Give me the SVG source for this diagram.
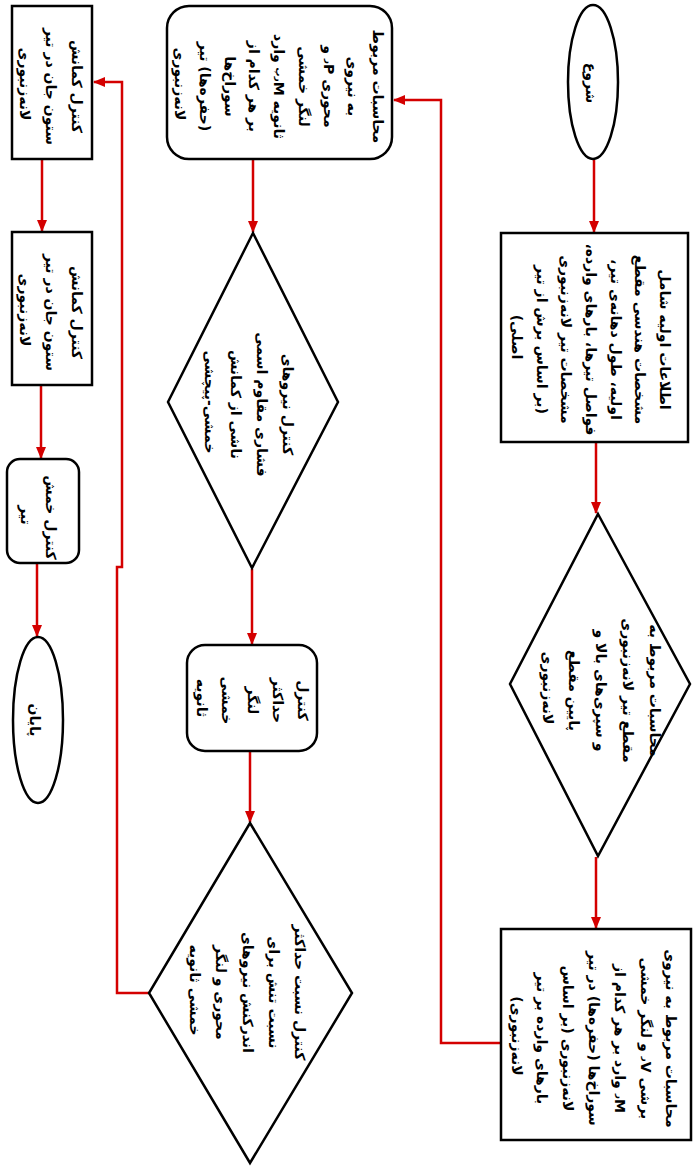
<svg xmlns="http://www.w3.org/2000/svg" width="700" height="1176" viewBox="0 0 700 1176">
<style>
.n{fill:#fff;stroke:#000;stroke-width:2.5}
.t{font-family:"DejaVu Sans","Noto Sans",sans-serif;font-weight:bold;font-size:14px;fill:#000;text-anchor:middle;dominant-baseline:central;direction:rtl;unicode-bidi:embed}
.sub{font-size:9px}
.c{fill:none;stroke:#d40000;stroke-width:2.5}
</style>
<defs>
<marker id="ah" markerUnits="userSpaceOnUse" markerWidth="12" markerHeight="10" refX="11" refY="5" orient="auto">
<path d="M0,0 L12,5 L0,10 Z" fill="#d40000"/>
</marker>
</defs>
<rect width="700" height="1176" fill="#fff"/>

<g id="connectors">
<path class="c" d="M594,160 V232" marker-end="url(#ah)"/>
<path class="c" d="M596,443 V513" marker-end="url(#ah)"/>
<path class="c" d="M596,857 V928" marker-end="url(#ah)"/>
<path class="c" d="M501,1043 H441 V100 H394" marker-end="url(#ah)"/>
<path class="c" d="M253,160 V232" marker-end="url(#ah)"/>
<path class="c" d="M252,569 V644" marker-end="url(#ah)"/>
<path class="c" d="M250,752 V822" marker-end="url(#ah)"/>
<path class="c" d="M149,993 H117 V567 H122 V82 H94" marker-end="url(#ah)"/>
<path class="c" d="M42,160 V231" marker-end="url(#ah)"/>
<path class="c" d="M41,386 V458" marker-end="url(#ah)"/>
<path class="c" d="M37,564 V636" marker-end="url(#ah)"/>
</g>

<g id="start">
<ellipse class="n" cx="593" cy="82" rx="25" ry="77"/>
<text class="t" transform="translate(591,83) rotate(90)"><tspan x="0" y="0">شروع</tspan></text>
</g>

<g id="input-data">
<rect class="n" x="501" y="233" width="187" height="209"/>
<text class="t" transform="translate(591,337) rotate(90)">
<tspan x="0" y="-74">اطلاعات اولیه شامل</tspan>
<tspan x="0" y="-49.3">مشخصات هندسی مقطع</tspan>
<tspan x="0" y="-24.7">اولیه، طول دهانه‌ی تیر،</tspan>
<tspan x="0" y="0">فواصل تیرها، بارهای وارده،</tspan>
<tspan x="0" y="24.7">مشخصات تیر لانه‌زنبوری</tspan>
<tspan x="0" y="49.3">(بر اساس برش از تیر</tspan>
<tspan x="0" y="74">اصلی)</tspan>
</text>
</g>

<g id="section-calc">
<polygon class="n" points="598,514 690,684 598,856 510,684"/>
<text class="t" transform="translate(601,688) rotate(90)">
<tspan x="0" y="-53.5">محاسبات مربوط به</tspan>
<tspan x="0" y="-26.75">مقطع تیر لانه‌زنبوری</tspan>
<tspan x="0" y="0">و سپری‌های بالا و</tspan>
<tspan x="0" y="26.75">پایین مقطع</tspan>
<tspan x="0" y="53.5">لانه‌زنبوری</tspan>
</text>
</g>

<g id="shear-moment">
<rect class="n" x="501" y="929" width="190" height="211"/>
<text class="t" transform="translate(594,1036) rotate(90)">
<tspan x="0" y="-77.4">محاسبات مربوط به نیروی</tspan>
<tspan x="0" y="-51.6">برشی V<tspan class="sub">ر</tspan> و لنگر خمشی</tspan>
<tspan x="0" y="-25.8">M<tspan class="sub">ر</tspan> وارد بر هر کدام از</tspan>
<tspan x="0" y="0">سوراخ‌ها (حفره‌ها) در تیر</tspan>
<tspan x="0" y="25.8">لانه‌زنبوری (بر اساس</tspan>
<tspan x="0" y="51.6">بارهای وارده بر تیر</tspan>
<tspan x="0" y="77.4">لانه‌زنبوری)</tspan>
</text>
</g>

<g id="axial-moment">
<rect class="n" x="167" y="6" width="225" height="153" rx="22"/>
<text class="t" transform="translate(279,84) rotate(90)">
<tspan x="0" y="-99">محاسبات مربوط</tspan>
<tspan x="0" y="-74.25">به نیروی</tspan>
<tspan x="0" y="-49.5">محوری P<tspan class="sub">ر</tspan> و</tspan>
<tspan x="0" y="-24.75">لنگر خمشی</tspan>
<tspan x="0" y="0">ثانویه M<tspan class="sub">رپ</tspan> وارد</tspan>
<tspan x="0" y="24.75">بر هر کدام از</tspan>
<tspan x="0" y="49.5">سوراخ‌ها</tspan>
<tspan x="0" y="74.25">(حفره‌ها) تیر</tspan>
<tspan x="0" y="99">لانه‌زنبوری</tspan>
</text>
</g>

<g id="ltb-check">
<polygon class="n" points="253,233 338,402 252,568 168,402"/>
<text class="t" transform="translate(249,402) rotate(90)">
<tspan x="0" y="-39">کنترل نیروهای</tspan>
<tspan x="0" y="-13">فشاری مقاوم اسمی</tspan>
<tspan x="0" y="13">ناشی از کمانش</tspan>
<tspan x="0" y="39">خمشی-پیچشی</tspan>
</text>
</g>

<g id="max-moment">
<rect class="n" x="187" y="645" width="130" height="106" rx="18"/>
<text class="t" transform="translate(252.5,698) rotate(90)">
<tspan x="0" y="-50.5">کنترل</tspan>
<tspan x="0" y="-25.25">حداکثر</tspan>
<tspan x="0" y="0">لنگر</tspan>
<tspan x="0" y="25.25">خمشی</tspan>
<tspan x="0" y="50.5">ثانویه</tspan>
</text>
</g>

<g id="interaction">
<polygon class="n" points="250,823 352,993 250,1163 149,993"/>
<text class="t" transform="translate(247.5,990) rotate(90)">
<tspan x="0" y="-52.5">کنترل نسبت حداکثر</tspan>
<tspan x="0" y="-26.25">نسبت تنش برای</tspan>
<tspan x="0" y="0">اندرکنش نیروهای</tspan>
<tspan x="0" y="26.25">محوری و لنگر</tspan>
<tspan x="0" y="52.5">خمشی ثانویه</tspan>
</text>
</g>

<g id="web-buckling-1">
<rect class="n" x="12" y="6" width="80" height="153"/>
<text class="t" transform="translate(51,84) rotate(90)">
<tspan x="0" y="-26">کنترل کمانش</tspan>
<tspan x="0" y="0">ستون جان در تیر</tspan>
<tspan x="0" y="26">لانه‌زنبوری</tspan>
</text>
</g>

<g id="web-buckling-2">
<rect class="n" x="12" y="232" width="80" height="153"/>
<text class="t" transform="translate(51,310) rotate(90)">
<tspan x="0" y="-26">کنترل کمانش</tspan>
<tspan x="0" y="0">ستون جان در تیر</tspan>
<tspan x="0" y="26">لانه‌زنبوری</tspan>
</text>
</g>

<g id="bending-check">
<rect class="n" x="7" y="459" width="72" height="104" rx="13"/>
<text class="t" transform="translate(38.5,515) rotate(90)">
<tspan x="0" y="-12.5">کنترل خمش</tspan>
<tspan x="0" y="12.5">تیر</tspan>
</text>
</g>

<g id="end">
<ellipse class="n" cx="38" cy="720" rx="25" ry="83"/>
<text class="t" transform="translate(35,720) rotate(90)"><tspan x="0" y="0">پایان</tspan></text>
</g>
</svg>
